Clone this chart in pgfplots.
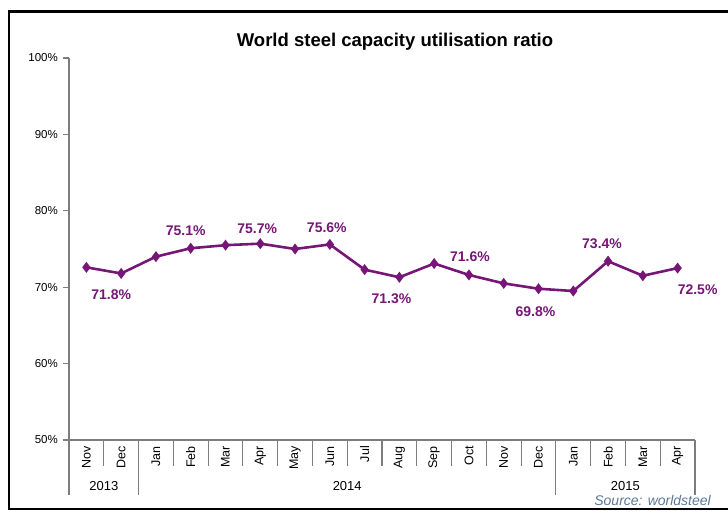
\documentclass[border=0pt]{standalone}
\usepackage{fontspec}
\setmainfont{Liberation Sans}
\usepackage{pgfplots}
\pgfplotsset{compat=1.18}
\definecolor{steel}{RGB}{118,22,118}
\definecolor{axgray}{RGB}{125,125,125}
\definecolor{srcblue}{RGB}{90,120,150}
\tikzset{lbl/.style={text=steel, font=\fontsize{14}{16}\bfseries\selectfont, inner sep=0pt}}
\begin{document}
\begin{tikzpicture}[x=1pt,y=1pt]
\path[use as bounding box] (0,0) rectangle (728,512);
\draw[line width=2.5pt] (740,500.5) -- (9,500.5) -- (9,3) -- (740,3);
\node[font=\fontsize{18.5}{22}\bfseries\selectfont] at (395,470) {World steel capacity utilisation ratio};
\begin{axis}[
  at={(69pt,72pt)}, anchor=south west,
  scale only axis, width=626pt, height=382pt,
  xmin=-0.5, xmax=17.5, ymin=50, ymax=100,
  axis x line*=bottom, axis y line*=left,
  axis line style={axgray, line width=1.2pt},
  ytick={50,60,...,100},
  yticklabel={\pgfmathprintnumber{\tick}\%},
  /pgf/number format/assume math mode=true,
  yticklabel style={font=\fontsize{11.5}{13}\selectfont, inner sep=0pt, xshift=-5pt},
  y tick style={axgray, line width=1.2pt},
  tick align=outside, major tick length=6pt,
  xtick={0,...,17},
  xticklabels={Nov,Dec,Jan,Feb,Mar,Apr,May,Jun,Jul,Aug,Sep,Oct,Nov,Dec,Jan,Feb,Mar,Apr},
  xticklabel style={rotate=90, anchor=east, font=\fontsize{12.5}{14}\selectfont, inner sep=0pt},
  x tick style={draw=none},
  clip=false,
]
\addplot[steel, line width=2.6pt, mark=diamond*, mark size=3.4pt, mark options={solid, fill=steel}]
  coordinates {(0,72.6)(1,71.8)(2,74.0)(3,75.1)(4,75.5)(5,75.7)(6,75.0)(7,75.6)(8,72.3)
               (9,71.3)(10,73.1)(11,71.6)(12,70.5)(13,69.8)(14,69.5)(15,73.4)(16,71.5)(17,72.5)};
\node[lbl, xshift=-10pt, yshift=-21pt] at (axis cs:1,71.8) {71.8\%};
\node[lbl, xshift=-5pt, yshift=18pt] at (axis cs:3,75.1) {75.1\%};
\node[lbl, xshift=-3pt, yshift=15pt] at (axis cs:5,75.7) {75.7\%};
\node[lbl, xshift=-3pt, yshift=17pt] at (axis cs:7,75.6) {75.6\%};
\node[lbl, xshift=-8pt, yshift=-21pt] at (axis cs:9,71.3) {71.3\%};
\node[lbl, xshift=1pt, yshift=18pt] at (axis cs:11,71.6) {71.6\%};
\node[lbl, xshift=-3pt, yshift=-23pt] at (axis cs:13,69.8) {69.8\%};
\node[lbl, xshift=-6pt, yshift=18pt] at (axis cs:15,73.4) {73.4\%};
\node[lbl, xshift=20pt, yshift=-22pt] at (axis cs:17,72.5) {72.5\%};
\node[font=\fontsize{13}{15}\selectfont, inner sep=0pt] at (axis cs:0.5,50) [yshift=-46pt] {2013};
\node[font=\fontsize{13}{15}\selectfont, inner sep=0pt] at (axis cs:7.5,50) [yshift=-46pt] {2014};
\node[font=\fontsize{13}{15}\selectfont, inner sep=0pt] at (axis cs:15.5,50) [yshift=-46pt] {2015};
\end{axis}
\foreach \k in {0,...,18} \draw[axgray, line width=1.2pt] ({69+34.7778*\k},72) -- ++(0,-26);
\foreach \k in {0,2,14,18} \draw[axgray, line width=1.2pt] ({69+34.7778*\k},72) -- ++(0,-55);
\node[anchor=east, text=srcblue, font=\fontsize{14}{16}\itshape\selectfont, inner sep=0pt] at (711,12) {Source: worldsteel};
\end{tikzpicture}
\end{document}
